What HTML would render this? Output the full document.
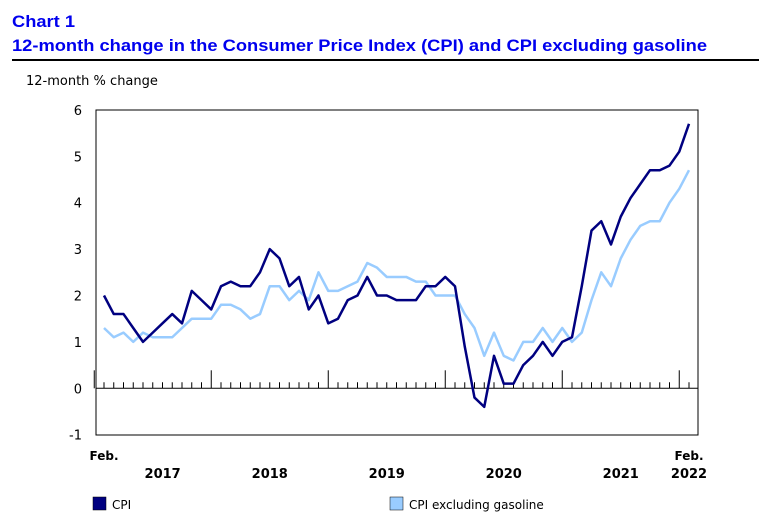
<!DOCTYPE html>
<html><head><meta charset="utf-8">
<style>
body{margin:0;background:#fff;width:759px;height:517px;overflow:hidden;font-family:"Liberation Sans",sans-serif}
svg text{font-family:"DejaVu Sans","Liberation Sans",sans-serif}
</style></head><body>
<svg id="c" width="759" height="517" xmlns="http://www.w3.org/2000/svg">
<text x="12" y="27" font-weight="bold" font-size="17" fill="#0000ee" textLength="63" lengthAdjust="spacingAndGlyphs" style="font-family:'Liberation Sans',sans-serif">Chart 1</text>
<text x="12" y="51" font-weight="bold" font-size="17" fill="#0000ee" textLength="695" lengthAdjust="spacingAndGlyphs" style="font-family:'Liberation Sans',sans-serif">12-month change in the Consumer Price Index (CPI) and CPI excluding gasoline</text>
<line x1="12" y1="60" x2="759" y2="60" stroke="#000" stroke-width="2"/>
<text x="26" y="85" font-size="13" fill="#000">12-month % change</text>
<rect x="96" y="110" width="602" height="325" fill="none" stroke="#000" stroke-width="1"/>
<g id="g"></g>
</svg>
<script>
const yTicks=[-1,0,1,2,3,4,5,6];
const years=["2017","2018","2019","2020","2021","2022"];
const cpi=[2.0,1.6,1.6,1.3,1.0,1.2,1.4,1.6,1.4,2.1,1.9,
1.7,2.2,2.3,2.2,2.2,2.5,3.0,2.8,2.2,2.4,1.7,2.0,
1.4,1.5,1.9,2.0,2.4,2.0,2.0,1.9,1.9,1.9,2.2,2.2,
2.4,2.2,0.9,-0.2,-0.4,0.7,0.1,0.1,0.5,0.7,1.0,0.7,
1.0,1.1,2.2,3.4,3.6,3.1,3.7,4.1,4.4,4.7,4.7,4.8,
5.1,5.7];
const cpiExGas=[1.3,1.1,1.2,1.0,1.2,1.1,1.1,1.1,1.3,1.5,1.5,
1.5,1.8,1.8,1.7,1.5,1.6,2.2,2.2,1.9,2.1,1.9,2.5,
2.1,2.1,2.2,2.3,2.7,2.6,2.4,2.4,2.4,2.3,2.3,2.0,
2.0,2.0,1.6,1.3,0.7,1.2,0.7,0.6,1.0,1.0,1.3,1.0,
1.3,1.0,1.2,1.9,2.5,2.2,2.8,3.2,3.5,3.6,3.6,4.0,
4.3,4.7];
const ns="http://www.w3.org/2000/svg";
const g=document.getElementById('g');
function x(i){return 104+i*9.75;}
function y(v){return 388.3-v*46.4;}
function mk(t,a){const e=document.createElementNS(ns,t);for(const k in a)e.setAttribute(k,a[k]);g.appendChild(e);return e;}
yTicks.forEach(v=>{
 const t=mk('text',{x:82,y:y(v)+5,'font-size':13,'text-anchor':'end'});t.textContent=v;
 
 
});
const z=mk('line',{x1:96,x2:698,y1:y(0),y2:y(0),stroke:'#000'});


for(let i=-1;i<=60;i++){
 const major=((i+1)%12===0);
 const l=mk('line',{x1:x(i),x2:x(i),y1:y(0),y2:y(0)-(major?18:6),stroke:'#000'});
 
 
}
years.forEach((yr,k)=>{
 let cx;
 if(k===0)cx=(x(0)+x(11))/2+5; else if(k===5)cx=x(60); else cx=(x(11+12*(k-1))+x(11+12*k))/2;
 const t=mk('text',{x:cx,y:478,'font-size':13,'font-weight':'bold','text-anchor':'middle'});t.textContent=yr;
 
 
});
[[x(0),'x-start-month'],[x(60),'x-end-month']].forEach(([px,n])=>{
 const t=mk('text',{x:px,y:460,'font-size':12,'font-weight':'bold','text-anchor':'middle'});t.textContent='Feb.';
 
 
});
function line(arr,col,name){
 const p=mk('polyline',{points:arr.map((v,i)=>x(i)+','+y(v)).join(' '),fill:'none',stroke:col,'stroke-width':2.5,'stroke-linejoin':'round'});
 
 
}
line(cpiExGas,'#99ccff','cpi-excluding-gasoline-line');
line(cpi,'#000080','cpi-line');
[[93,'#000080','CPI','legend-cpi'],[390,'#99ccff','CPI excluding gasoline','legend-cpi-ex-gasoline']].forEach(([lx,c,txt,n])=>{
 const r=mk('rect',{x:lx,y:497,width:13,height:13,fill:c,stroke:'#000','stroke-width':0.5});
 
 
 const t=mk('text',{x:lx+19,y:509,'font-size':12});t.textContent=txt;
 
 
});
</script>
</body></html>
